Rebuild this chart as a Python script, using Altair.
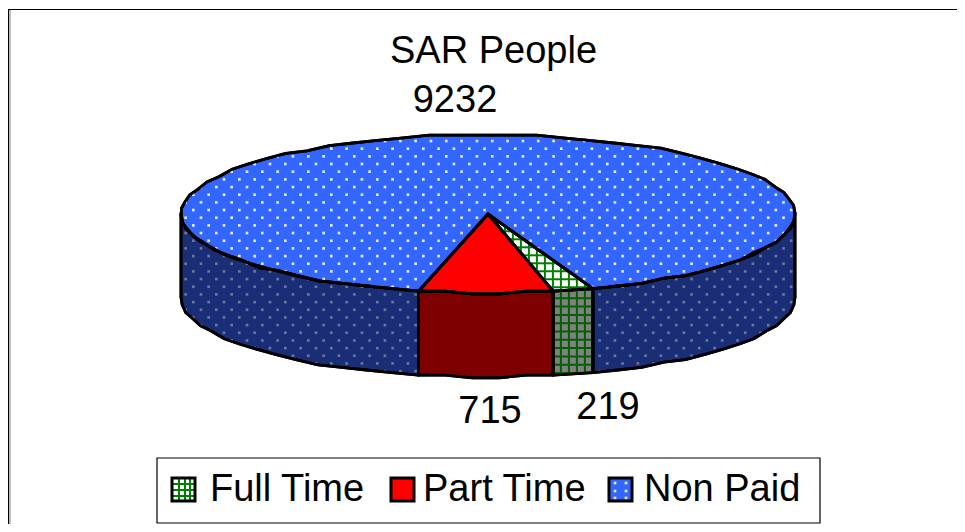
import altair as alt
import numpy as np
import pandas as pd

# ---- chart values
categories = ["Full Time", "Part Time", "Non Paid"]
people = [219, 715, 9232]
top_colors = ["#ffffff", "#ff0000", "#3366ff"]
side_colors = ["#808080", "#7f0000", "#1a2e78"]
FONT = "Liberation Sans"

# ---- 3-D pie geometry (page pixel units)
CX, CY, RX, RY, DEPTH = 488, 214, 307, 79, 84
START = 20.0   # degrees right of the front-most point


def rim(phi, dy=0):
    a = np.radians(phi)
    x = CX + RX * np.sin(a)
    y = CY + RY * np.cos(a)
    y = np.round(y / 2.6) * 2.6
    return x, y + dy


def arc(a, b, step=5.0):
    n = max(2, int(abs(b - a) / step) + 1)
    return np.linspace(a, b, n)


total = sum(people)
spans, cur = [], START
for v in people:
    nxt = cur - 360 * v / total
    spans.append((cur, nxt))
    cur = nxt

top_polys, side_polys = {}, {}
for cat, (a, b) in zip(categories, spans):
    xs, ys = rim(arc(a, b))
    top_polys[cat] = [(CX, CY)] + list(zip(xs, ys))

s_full, s_part = spans[0], spans[1]
side_ranges = {
    "Full Time": [s_full],
    "Part Time": [s_part],
    "Non Paid": [(90, s_full[0]), (s_part[1], -90)],
}
for cat, rs in side_ranges.items():
    side_polys[cat] = []
    for a, b in rs:
        phis = arc(a, b)
        xs, ys = rim(phis)
        xb, yb = rim(phis[::-1], DEPTH)
        side_polys[cat].append(list(zip(xs, ys)) + list(zip(xb, yb)))


def poly_rows(name, cat, pts):
    return [{"poly": name, "cat": cat, "i": i, "x": float(p[0]), "y": float(p[1])} for i, p in enumerate(pts)]


top_df = pd.DataFrame([r for c in categories for r in poly_rows("top " + c, c, top_polys[c])])
side_rows = []
for cat, plist in side_polys.items():
    for k, pts in enumerate(plist):
        side_rows += poly_rows(f"side {cat} {k}", cat, pts)
side_df = pd.DataFrame(side_rows)


def inside(px, py, pts):
    c = False
    n = len(pts)
    for i in range(n):
        x1, y1 = pts[i]
        x2, y2 = pts[(i + 1) % n]
        if (y1 > py) != (y2 > py) and px < (x2 - x1) * (py - y1) / (y2 - y1) + x1:
            c = not c
    return c


# ---- legend layout
swatch_x = [172, 391, 609]
label_x = [210, 423, 644]
SW = 23
SY0, SY1 = 478, 501

# ---- dotted texture of the Non Paid slice
DX, DY = 15.33, 7.67
dots = []
for j in range(-30, 50):
    y = 171.7 + j * DY
    off = (j % 2) * DX / 2
    for i in range(-20, 45):
        x = 308.3 + off + i * DX
        if inside(x, y, top_polys["Non Paid"]):
            dots.append({"x": x, "y": y, "c": "#e4ebff"})
        elif any(inside(x, y, p) for p in side_polys["Non Paid"]):
            dots.append({"x": x, "y": y, "c": "#6d7796"})
for lx, ly in [(615, 483), (615, 491), (615, 498), (626, 483), (626, 491), (626, 498)]:
    dots.append({"x": lx, "y": ly, "c": "#e4ebff"})
dots_df = pd.DataFrame(dots)


# ---- grid texture of the Full Time slice
def clip_segments(pts, color, xs, ys):
    out = []
    for x0 in xs:
        t = np.arange(100, 400, 0.25)
        hit = [v for v in t if inside(x0, v, pts)]
        if hit:
            out.append({"x": x0, "y": hit[0], "x2": x0, "y2": hit[-1], "c": color})
    for y0 in ys:
        t = np.arange(400, 700, 0.25)
        hit = [v for v in t if inside(v, y0, pts)]
        if hit:
            out.append({"x": hit[0], "y": y0, "x2": hit[-1], "y2": y0, "c": color})
    return out


GX = [496.9 + 8.0 * k for k in range(13)]
GY_TOP = [223.3 + 8.0 * k for k in range(10)]
GY_SIDE = [290 + 8.3 * k for k in range(12)]
seg = clip_segments(top_polys["Full Time"], "#008000", GX, GY_TOP)
seg += clip_segments(side_polys["Full Time"][0], "#006000", GX, GY_SIDE)
for v in (179, 185, 190):
    seg.append({"x": v, "y": SY0, "x2": v, "y2": SY1, "c": "#008000"})
for v in (484, 490, 496):
    seg.append({"x": 172, "y": v, "x2": 195, "y2": v, "c": "#008000"})
seg_df = pd.DataFrame(seg)

# ---- value labels
labels_df = pd.DataFrame({
    "label": [str(v) for v in people],
    "x": [608, 490, 455],
    "y": [419, 423, 112],
})

X = alt.X("x:Q", scale=alt.Scale(domain=[8, 957]), axis=None)
Y = alt.Y("y:Q", scale=alt.Scale(domain=[524, 8]), axis=None)
LINE = dict(interpolate="linear-closed", stroke="black", strokeWidth=2.8, strokeJoin="round")

sides = alt.Chart(side_df).mark_line(**LINE).encode(
    x=X, y=Y, order="i:Q", detail="poly:N",
    fill=alt.Fill("cat:N", scale=alt.Scale(domain=categories, range=side_colors), legend=None),
)
tops = alt.Chart(top_df).mark_line(**LINE).encode(
    x=X, y=Y, order="i:Q", detail="poly:N",
    fill=alt.Fill("cat:N", scale=alt.Scale(domain=categories, range=top_colors), legend=None),
)

# hand-built legend, so that its swatches can carry the slice textures
legend_box = alt.Chart(pd.DataFrame([{"x": 157, "x2": 820, "y": 458, "y2": 523}])).mark_rect(
    fill="white", stroke="black", strokeWidth=1.2
).encode(x=X, x2="x2:Q", y=Y, y2="y2:Q")
swatch_df = pd.DataFrame({
    "cat": categories, "x": swatch_x, "x2": [v + SW for v in swatch_x], "y": SY0, "y2": SY1, "c": top_colors,
})
swatches = alt.Chart(swatch_df).mark_rect().encode(
    x=X, x2="x2:Q", y=Y, y2="y2:Q", fill=alt.Fill("c:N", scale=None)
)
swatch_edges = alt.Chart(swatch_df).mark_rect(fillOpacity=0, stroke="black", strokeWidth=3).encode(
    x=X, x2="x2:Q", y=Y, y2="y2:Q"
)
legend_labels = alt.Chart(pd.DataFrame({"cat": categories, "x": label_x, "y": 501})).mark_text(
    font=FONT, fontSize=38, align="left", baseline="alphabetic", color="black"
).encode(x=X, y=Y, text="cat:N")

dot_layer = alt.Chart(dots_df).mark_point(filled=True, shape="square", size=7, opacity=1).encode(
    x=X, y=Y, color=alt.Color("c:N", scale=None)
)
seg_layer = alt.Chart(seg_df).mark_rule(strokeWidth=2).encode(
    x=X, y=Y, x2="x2:Q", y2="y2:Q", color=alt.Color("c:N", scale=None)
)
outline = alt.Chart(pd.concat([side_df, top_df])).mark_line(**LINE).encode(
    x=X, y=Y, order="i:Q", detail="poly:N"
)
text = alt.Chart(labels_df).mark_text(font=FONT, fontSize=38, baseline="alphabetic", color="black").encode(
    x=X, y=Y, text="label:N"
)

frame_df = pd.DataFrame([
    {"x": 8, "y": 9.5, "x2": 957, "y2": 9.5, "c": "black"},
    {"x": 8.5, "y": 9, "x2": 8.5, "y2": 524, "c": "black"},
    {"x": 10, "y": 10, "x2": 10, "y2": 524, "c": "#999999"},
])
frame = alt.Chart(frame_df).mark_rule(strokeWidth=1.2).encode(
    x=X, y=Y, x2="x2:Q", y2="y2:Q", color=alt.Color("c:N", scale=None)
)

chart = alt.layer(
    frame, sides, tops, legend_box, swatches, dot_layer, seg_layer, swatch_edges, outline, text, legend_labels
).properties(
    width=949, height=516,
    padding=0,
    autosize=alt.AutoSizeParams(type="none"),
    title=alt.TitleParams(
        "SAR People", font=FONT, fontSize=38, fontWeight="normal", color="black",
        anchor="middle", offset=-63, dx=11,
    ),
).configure_view(stroke=None).resolve_scale(color="independent", fill="independent")

chart.save("out.html", embed_options={"renderer": "svg", "actions": False})
